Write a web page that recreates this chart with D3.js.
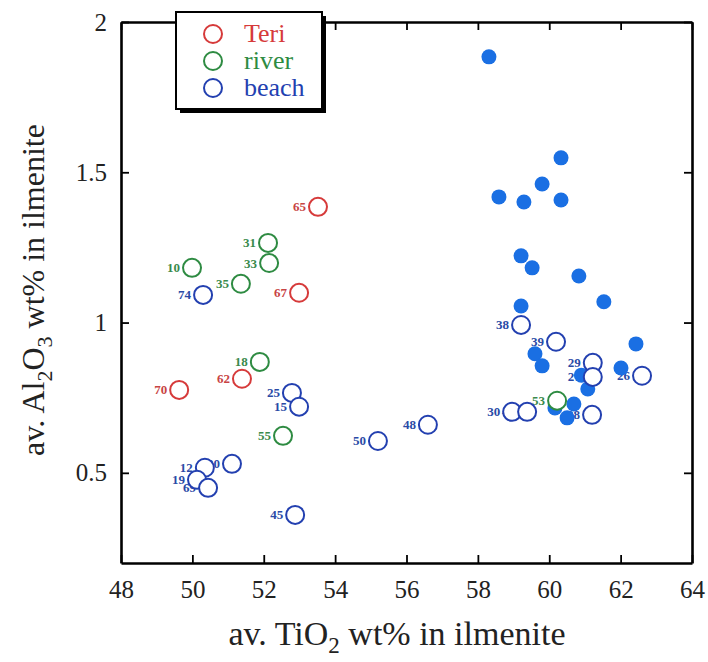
<!DOCTYPE html>
<html>
<head>
<meta charset="utf-8">
<script src="https://cdn.jsdelivr.net/npm/d3@7"></script>
<style>
  body { margin: 0; background: #fff; }
  svg text { font-family: "Liberation Serif", "Times New Roman", serif; }
</style>
</head>
<body>
<svg id="chart" width="708" height="662"></svg>
<script>
// data
var teriLabels = ["65", "67", "62", "70"];
var teriX = [53.52, 52.99, 51.39, 49.63];
var teriY = [1.385, 1.099, 0.813, 0.776];

var riverLabels = ["31", "33", "10", "35", "18", "55", "53"];
var riverX = [52.12, 52.15, 49.99, 51.36, 51.89, 52.54, 60.22];
var riverY = [1.265, 1.198, 1.182, 1.129, 0.869, 0.623, 0.740];

var beachLabels = ["74", "25", "15", "50", "48", "45", "12", "20", "19", "69", "38", "39", "29", "27", "26", "30", "40", "28"];
var beachX = [50.30, 52.79, 52.99, 55.20, 56.60, 52.88, 50.35, 51.11, 50.13, 50.44, 59.21, 60.19, 61.22, 61.22, 62.60, 58.96, 59.38, 61.20];
var beachY = [1.092, 0.766, 0.720, 0.606, 0.660, 0.360, 0.517, 0.530, 0.477, 0.450, 0.992, 0.936, 0.866, 0.819, 0.823, 0.703, 0.703, 0.693];

// filled dots, no labels
var dotX = [58.31, 60.33, 59.80, 58.59, 59.29, 60.33, 59.21, 59.52, 60.83, 61.53, 59.21, 62.43, 59.60, 59.80, 62.01, 60.90, 61.08, 60.69, 60.16, 60.50];
var dotY = [1.884, 1.548, 1.461, 1.418, 1.401, 1.408, 1.222, 1.182, 1.155, 1.069, 1.055, 0.929, 0.896, 0.856, 0.849, 0.825, 0.779, 0.729, 0.716, 0.683];

var xTicks = [48, 50, 52, 54, 56, 58, 60, 62, 64];
var yTicks = [0.5, 1, 1.5, 2];
var legendNames = ["Teri", "river", "beach"];

var colors = {Teri: "#d63a3a", river: "#2e8b42", beach: "#2340b0"};
var labelColors = {Teri: "#c84444", river: "#3a8a4c", beach: "#2a4aa6"};
var dotColor = "#1a6fe3";

var svg = d3.select("#chart");

var x = d3.scaleLinear().domain([48, 64]).range([121, 692]);
var y = d3.scaleLinear().domain([0.2, 2]).range([563, 22]);

function pts(names, xs, ys, group) {
  return names.map((n, i) => ({label: n, x: xs[i], y: ys[i], group: group}));
}
var open = pts(teriLabels, teriX, teriY, "Teri")
  .concat(pts(riverLabels, riverX, riverY, "river"))
  .concat(pts(beachLabels, beachX, beachY, "beach"));
var dots = dotX.map((v, i) => ({x: v, y: dotY[i]}));

// axes, ticks pointing inside on all four sides
function styleAxis(g) {
  g.select(".domain").attr("stroke", "#000").attr("stroke-width", 2.6);
  g.selectAll(".tick line").attr("stroke", "#000").attr("stroke-width", 1.8);
  g.selectAll(".tick text").attr("fill", "#222").style("font-size", "25px");
}

svg.append("g")
  .attr("transform", "translate(0,563)")
  .call(d3.axisBottom(x).tickValues(xTicks).tickSize(-8).tickSizeOuter(0).tickPadding(17).tickFormat(d3.format("d")))
  .call(styleAxis);

svg.append("g")
  .attr("transform", "translate(0,22)")
  .call(d3.axisTop(x).tickValues(xTicks).tickSize(-8).tickSizeOuter(0).tickFormat(""))
  .call(styleAxis);

svg.append("g")
  .attr("transform", "translate(121,0)")
  .call(d3.axisLeft(y).tickValues(yTicks).tickSize(-8).tickSizeOuter(0).tickPadding(14).tickFormat(d => d))
  .call(styleAxis);

svg.append("g")
  .attr("transform", "translate(692,0)")
  .call(d3.axisRight(y).tickValues(yTicks).tickSize(-8).tickSizeOuter(0).tickFormat(""))
  .call(styleAxis);

// labels first, so dots and circles sit over them
svg.append("g").selectAll("text")
  .data(open)
  .join("text")
  .attr("x", d => x(d.x) - 12)
  .attr("y", d => y(d.y) + 4.5)
  .attr("text-anchor", "end")
  .attr("fill", d => labelColors[d.group])
  .style("font-size", "13px")
  .style("font-weight", "bold")
  .text(d => d.label);

svg.append("g").selectAll("circle")
  .data(dots)
  .join("circle")
  .attr("cx", d => x(d.x))
  .attr("cy", d => y(d.y))
  .attr("r", 7.5)
  .attr("fill", dotColor);

svg.append("g").selectAll("circle")
  .data(open)
  .join("circle")
  .attr("cx", d => x(d.x))
  .attr("cy", d => y(d.y))
  .attr("r", 9)
  .attr("fill", "#fff")
  .attr("stroke", d => colors[d.group])
  .attr("stroke-width", 2);

// legend
var legend = svg.append("g");
legend.append("rect")
  .attr("x", 180).attr("y", 16).attr("width", 146).attr("height", 97)
  .attr("fill", "#000");
legend.append("rect")
  .attr("x", 176).attr("y", 12).attr("width", 146).attr("height", 97)
  .attr("fill", "#fff").attr("stroke", "#000").attr("stroke-width", 2);

legend.selectAll("circle")
  .data(legendNames)
  .join("circle")
  .attr("cx", 213)
  .attr("cy", (d, i) => 34 + i * 27)
  .attr("r", 9)
  .attr("fill", "none")
  .attr("stroke", d => colors[d])
  .attr("stroke-width", 2);

legend.selectAll("text")
  .data(legendNames)
  .join("text")
  .attr("x", 244)
  .attr("y", (d, i) => 42 + i * 27)
  .attr("fill", d => colors[d])
  .style("font-size", "26px")
  .text(d => d);

// axis titles
var xt = svg.append("text")
  .attr("x", 397).attr("y", 645)
  .attr("text-anchor", "middle")
  .attr("fill", "#222")
  .style("font-size", "34px");
xt.append("tspan").text("av. TiO");
xt.append("tspan").attr("dy", 8).style("font-size", "23px").text("2");
xt.append("tspan").attr("dy", -8).text(" wt% in ilmenite");

var yt = svg.append("text")
  .attr("transform", "translate(44,290) rotate(-90)")
  .attr("text-anchor", "middle")
  .attr("fill", "#222")
  .style("font-size", "32px");
yt.append("tspan").text("av. Al");
yt.append("tspan").attr("dy", 8).style("font-size", "22px").text("2");
yt.append("tspan").attr("dy", -8).text("O");
yt.append("tspan").attr("dy", 8).style("font-size", "22px").text("3");
yt.append("tspan").attr("dy", -8).text(" wt% in ilmenite");
</script>
</body>
</html>
